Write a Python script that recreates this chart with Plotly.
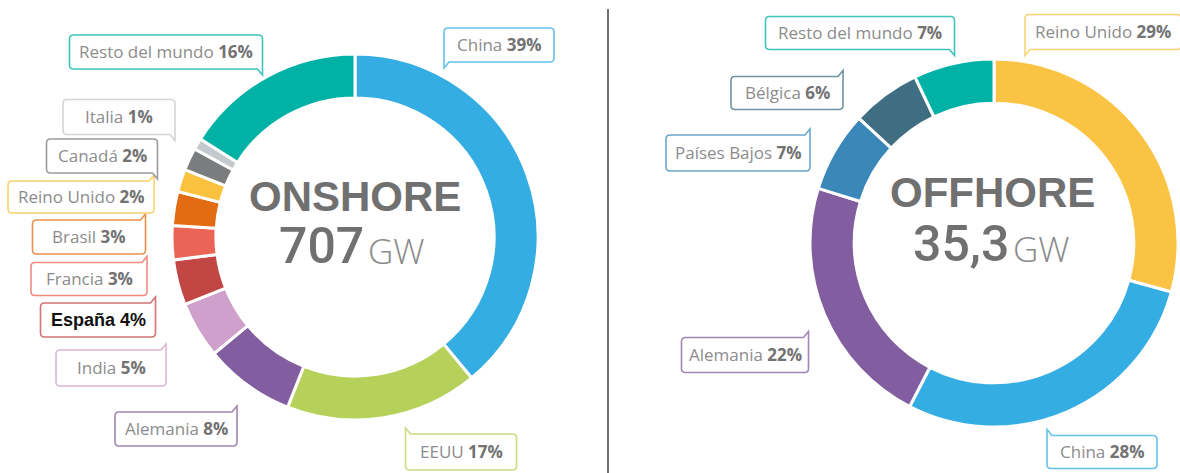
import plotly.graph_objects as go

W, H = 1180, 473

# ---------------- data ----------------
on_labels = ["China", "EEUU", "Alemania", "India", "España", "Francia", "Brasil",
             "Reino Unido", "Canadá", "Italia", "Resto del mundo"]
on_values = [39, 17, 8, 5, 4, 3, 3, 2, 2, 1, 16]
on_colors = ["#34ADE3", "#B6D15A", "#825EA0", "#CFA0CC", "#C24644", "#EC6455", "#E36B12",
             "#FAC23E", "#7B7C7E", "#C3C9CD", "#00B1A6"]
on_title = "ONSHORE"
on_total = "707"

off_labels = ["Reino Unido", "China", "Alemania", "Países Bajos", "Bélgica", "Resto del mundo"]
off_values = [29, 28, 22, 7, 6, 7]
off_colors = ["#FBC343", "#34ADE3", "#825EA0", "#3A87BA", "#3F6E83", "#00B1A6"]
off_title = "OFFHORE"
off_total = "35,3"

unit = "GW"

# label boxes: center x, center y, width, height, tail corner (pixels)
on_boxes = {
    "China": (499, 45, 110, 34, "BL"),
    "EEUU": (461, 452, 111, 36, "TL"),
    "Alemania": (176, 429, 122, 34, "TR"),
    "India": (111, 368, 110, 36, "TR"),
    "España": (98, 320, 115, 34, "TR"),
    "Francia": (89, 279, 116, 33, "TR"),
    "Brasil": (89, 237, 113, 34, "TR"),
    "Reino Unido": (81, 197, 146, 32, "TR"),
    "Canadá": (102, 156, 111, 34, "BR"),
    "Italia": (119, 117, 112, 35, "BR"),
    "Resto del mundo": (166, 52, 193, 34, "BR"),
}
off_boxes = {
    "Reino Unido": (1103, 32, 156, 35, "BL"),
    "China": (1102, 452, 110, 33, "TL"),
    "Alemania": (745, 355, 127, 35, "TR"),
    "Países Bajos": (738, 153, 144, 36, "TR"),
    "Bélgica": (787, 93, 112, 33, "TR"),
    "Resto del mundo": (860, 33, 189, 33, "BR"),
}


def px(x, y):
    return x / W, 1 - y / H


def dom(cx, cy, r):
    return dict(x=[(cx - r) / W, (cx + r) / W], y=[(H - cy - r) / H, (H - cy + r) / H])


def lighten(hexcol, f=0.25):
    h = hexcol.lstrip("#")
    r, g, b = (int(h[i:i + 2], 16) for i in (0, 2, 4))
    r, g, b = (int(c + (255 - c) * f) for c in (r, g, b))
    return f"#{r:02X}{g:02X}{b:02X}"


def bubble_path(cx, cy, bw, bh, tail, rad=4, sp=6, back=5):
    x0, x1 = cx - bw / 2, cx + bw / 2
    y0, y1 = cy - bh / 2, cy + bh / 2
    pts = []
    if tail == "TL":
        pts.append(("M", [(x0 + back, y0)]))
    else:
        pts.append(("M", [(x0 + rad, y0)]))
    if tail == "TR":
        pts += [("L", [(x1 - back, y0)]), ("L", [(x1, y0 - sp)]), ("L", [(x1, y0 + rad)])]
    else:
        pts += [("L", [(x1 - rad, y0)]), ("Q", [(x1, y0), (x1, y0 + rad)])]
    if tail == "BR":
        pts += [("L", [(x1, y1 + sp)]), ("L", [(x1 - back, y1)])]
    else:
        pts += [("L", [(x1, y1 - rad)]), ("Q", [(x1, y1), (x1 - rad, y1)])]
    if tail == "BL":
        pts += [("L", [(x0 + back, y1)]), ("L", [(x0, y1 + sp)]), ("L", [(x0, y1 - rad)])]
    else:
        pts += [("L", [(x0 + rad, y1)]), ("Q", [(x0, y1), (x0, y1 - rad)])]
    if tail == "TL":
        pts += [("L", [(x0, y0 - sp)])]
    else:
        pts += [("L", [(x0, y0 + rad)]), ("Q", [(x0, y0), (x0 + rad, y0)])]
    s = ""
    for cmd, ps in pts:
        s += cmd + " " + " ".join(f"{px(a, b)[0]:.5f},{px(a, b)[1]:.5f}" for a, b in ps) + " "
    return s + "Z"


fig = go.Figure()
fig.add_trace(go.Pie(
    labels=on_labels, values=on_values, sort=False, direction="clockwise", rotation=0,
    hole=0.76, textinfo="none", showlegend=False,
    marker=dict(colors=on_colors, line=dict(color="white", width=3)),
    domain=dom(355, 237, 183)))
fig.add_trace(go.Pie(
    labels=off_labels, values=off_values, sort=False, direction="clockwise", rotation=0,
    hole=0.76, textinfo="none", showlegend=False,
    marker=dict(colors=off_colors, line=dict(color="white", width=3)),
    domain=dom(994, 243, 184)))

annotations = []
shapes = [dict(type="line", xref="paper", yref="paper", x0=608 / W, x1=608 / W,
               y0=0, y1=1 - 9 / H, line=dict(color="#6E6E6E", width=2))]


def add_labels(labels, values, colors, boxes):
    for lab, val, col in zip(labels, values, colors):
        cx, cy, bw, bh, tail = boxes[lab]
        shapes.append(dict(type="path", xref="paper", yref="paper",
                           path=bubble_path(cx, cy, bw, bh, tail),
                           fillcolor="white", line=dict(color=lighten(col), width=1.6),
                           layer="above"))
        x, y = px(cx, cy)
        if lab == "España":
            txt = f"<b>{lab} {val}%</b>"
            font = dict(family="Liberation Sans", size=18, color="#111111")
        else:
            txt = f"{lab} <b><span style='color:#727272'>{val}%</span></b>"
            font = dict(family="Open Sans", size=17, color="#8C8C8C")
        annotations.append(dict(
            x=x, y=y + 0.5 / H, xref="paper", yref="paper", text=txt, showarrow=False,
            xanchor="center", yanchor="middle", font=font, borderpad=0))


add_labels(on_labels, on_values, on_colors, on_boxes)
add_labels(off_labels, off_values, off_colors, off_boxes)


def center_text(title, total, tcx, ty, nx, ny):
    x, y = px(tcx, ty)
    annotations.append(dict(x=x, y=y, xref="paper", yref="paper", text=f"<b>{title}</b>",
                            showarrow=False, xanchor="center", yanchor="middle",
                            font=dict(family="Liberation Sans", size=42, color="#707070")))
    x, y = px(nx + 2, ny)
    annotations.append(dict(x=x, y=y, xref="paper", yref="paper", text=total,
                            showarrow=False, xanchor="right", yanchor="middle",
                            font=dict(family="Roboto", size=50, color="#707070", weight=500)))
    x, y = px(nx + 2, ny + 4)
    annotations.append(dict(x=x, y=y, xref="paper", yref="paper", text=unit,
                            showarrow=False, xanchor="left", yanchor="middle",
                            font=dict(family="Open Sans", size=35, color="#8A8A8A", weight=300)))


center_text(on_title, on_total, 355, 196, 364, 246)
center_text(off_title, off_total, 992, 193, 1009, 244)

fig.update_layout(
    width=W, height=H, margin=dict(l=0, r=0, t=0, b=0),
    paper_bgcolor="white", plot_bgcolor="white",
    annotations=annotations, shapes=shapes,
)

fig.write_html("out.html", config={"displayModeBar": False},
               post_script="document.body.style.margin='0px';")
